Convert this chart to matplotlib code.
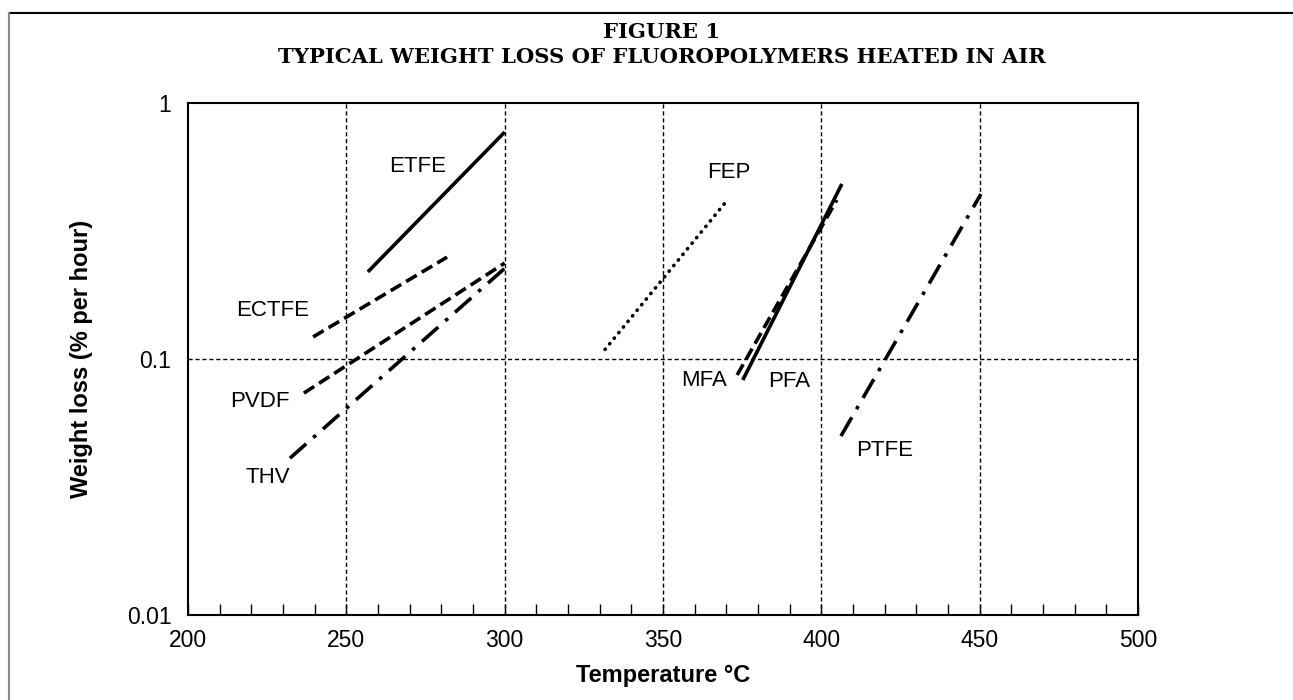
import matplotlib
matplotlib.use("Agg")
import matplotlib.pyplot as plt
from matplotlib.lines import Line2D
from matplotlib.ticker import FixedLocator, NullLocator

plt.rcParams["font.family"] = ["Liberation Sans", "DejaVu Sans"]

# Weight loss lines (start/end of each polymer)
polymers = ["ETFE", "ECTFE", "PVDF", "THV", "FEP", "MFA", "PFA", "PTFE"]
temp_start = [256.8, 239.5, 236.6, 232.2, 331.7, 373.4, 375.2, 406.2]
temp_end = [300.0, 281.8, 300.0, 300.0, 369.6, 404.9, 406.5, 450.4]
loss_start = [0.219, 0.122, 0.0736, 0.041, 0.109, 0.0866, 0.0828, 0.050]
loss_end = [0.77, 0.25, 0.237, 0.226, 0.407, 0.418, 0.483, 0.441]

# label positions
label_temp = [272.6, 226.8, 222.7, 225.3, 370.8, 362.9, 389.8, 420.1]
label_loss = [0.567, 0.155, 0.068, 0.0346, 0.537, 0.0828, 0.082, 0.0441]

x_ticks = [200, 250, 300, 350, 400, 450, 500]
y_ticks = [0.01, 0.1, 1]
y_tick_labels = ["0.01", "0.1", "1"]

styles = {
    "ETFE": "-",
    "ECTFE": (0, (3.4, 1.6)),
    "PVDF": (0, (3.4, 1.6)),
    "THV": (0, (6, 2.6, 1, 2.6)),
    "FEP": (0, (0.1, 1.9)),
    "MFA": (0, (3.4, 1.6)),
    "PFA": "-",
    "PTFE": (0, (6, 2.6, 1, 2.6)),
}

fig = plt.figure(figsize=(12.93, 7.0), dpi=100)
ax = fig.add_axes([0.1454, 0.1214, 0.7347, 0.7314])

for name, t0, t1, v0, v1 in zip(polymers, temp_start, temp_end, loss_start, loss_end):
    ls = styles[name]
    cap = "round" if name == "FEP" else "butt"
    ax.plot([t0, t1], [v0, v1], color="black", linestyle=ls, linewidth=2.6,
            solid_capstyle="butt", dash_capstyle=cap, zorder=3)

for name, t, v in zip(polymers, label_temp, label_loss):
    ax.text(t, v, name, fontsize=16, ha="center", va="center", zorder=4)

ax.set_yscale("log")
ax.set_xlim(200, 500)
ax.set_ylim(0.01, 1)

ax.xaxis.set_major_locator(FixedLocator(x_ticks))
ax.xaxis.set_minor_locator(FixedLocator(range(200, 501, 10)))
ax.set_xticklabels([str(t) for t in x_ticks])
ax.yaxis.set_major_locator(FixedLocator(y_ticks))
ax.yaxis.set_minor_locator(NullLocator())
ax.set_yticklabels(y_tick_labels)

ax.tick_params(axis="x", which="both", direction="in", length=8, width=1,
               labelsize=16.5, pad=10)
ax.tick_params(axis="y", which="both", length=0, labelsize=16.5, pad=12)

# dashed reference grid
for t in x_ticks[1:-1]:
    ax.axvline(t, color="black", linestyle=(0, (3, 2)), linewidth=1, zorder=1)
ax.axhline(0.1, color="black", linestyle=(0, (3, 2)), linewidth=1, zorder=1)

for sp in ax.spines.values():
    sp.set_linewidth(1.5)

ax.set_xlabel("Temperature °C", fontsize=17, fontweight="bold", labelpad=9)
ax.set_ylabel("Weight loss (% per hour)", fontsize=17, fontweight="bold", labelpad=24)

fig.text(0.512, 0.954, "FIGURE 1", fontsize=15.2, fontweight="bold",
         family="DejaVu Serif", ha="center", va="center")
fig.text(0.512, 0.919, "TYPICAL WEIGHT LOSS OF FLUOROPOLYMERS HEATED IN AIR",
         fontsize=15.2, fontweight="bold", family="DejaVu Serif",
         ha="center", va="center")

# page frame
fig.add_artist(Line2D([0.007, 1.0], [0.981, 0.981], color="black", linewidth=1.5,
                      transform=fig.transFigure))
fig.add_artist(Line2D([0.007, 0.007], [0.0, 0.981], color="#888888", linewidth=1.5,
                      transform=fig.transFigure))

fig.savefig("out.png", dpi=100)
